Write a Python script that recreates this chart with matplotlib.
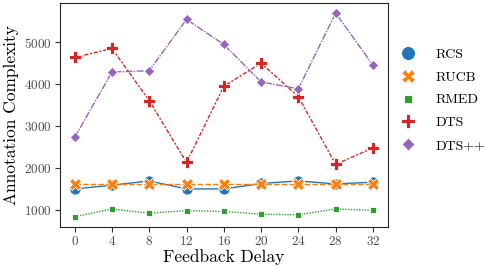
import numpy as np
import matplotlib
matplotlib.use("Agg")
import matplotlib.pyplot as plt
from matplotlib.lines import Line2D

plt.rcParams['font.family'] = ['cmr10', 'DejaVu Serif']
plt.rcParams['mathtext.fontset'] = 'cm'
plt.rcParams['axes.formatter.use_mathtext'] = True
plt.rcParams['axes.unicode_minus'] = False

delay = [0, 4, 8, 12, 16, 20, 24, 28, 32]
rcs = [1510, 1600, 1700, 1510, 1510, 1640, 1700, 1630, 1670]
rucb = [1635, 1635, 1635, 1635, 1635, 1635, 1635, 1635, 1635]
rmed = [850, 1035, 935, 995, 975, 910, 895, 1035, 1000]
dts = [4635, 4850, 3610, 2140, 3950, 4500, 3705, 2095, 2485]
dtspp = [2735, 4290, 4320, 5540, 4945, 4055, 3890, 5690, 4455]

names = ['RCS', 'RUCB', 'RMED', 'DTS', 'DTS++']
series = [rcs, rucb, rmed, dts, dtspp]
colors = ['#1f77b4', '#ff7f0e', '#2ca02c', '#d62728', '#9467bd']
markers = ['o', 'X', (4, 0, 45), 'P', (4, 0, 0)]
dashes = [(None, None), (4, 1.5), (1, 1), (3, 1.25, 1.5, 1.25), (5, 1, 1, 1)]
msizes = [8, 8, 6.5, 8, 7.5]

fig = plt.figure(figsize=(4.86, 2.66), dpi=100)
ax = fig.add_axes([0.123, 0.147, 0.675, 0.842])

for name, y, c, m, d, ms in zip(names, series, colors, markers, dashes, msizes):
    line, = ax.plot(delay, y, color=c, lw=1.0, marker=m, ms=ms,
                    markeredgecolor='white', markeredgewidth=0.6, label=name)
    if d[0] is not None:
        line.set_dashes(d)

ax.set_xticks(delay)
ax.set_yticks([1000, 2000, 3000, 4000, 5000])
ax.tick_params(axis='both', labelsize=9.5, labelcolor='0.3', direction='out',
               length=3.5, color='0.2', pad=2.5)
ax.set_xlabel('Feedback Delay', fontsize=12.5, labelpad=1)
ax.set_ylabel('Annotation Complexity', fontsize=12.5, labelpad=3)
for s in ax.spines.values():
    s.set_color('0.15')

handles = [Line2D([], [], ls='none', marker=m, color=c, ms=ms * 1.25,
                  markeredgecolor='white', markeredgewidth=0.6)
           for c, m, ms in zip(colors, markers, msizes)]
fig.legend(handles, names, loc='center left', bbox_to_anchor=(0.79, 0.624),
           frameon=False, fontsize=10, handletextpad=1.25, labelspacing=0.72,
           handlelength=1.6)

fig.savefig('out.png', dpi=100)
